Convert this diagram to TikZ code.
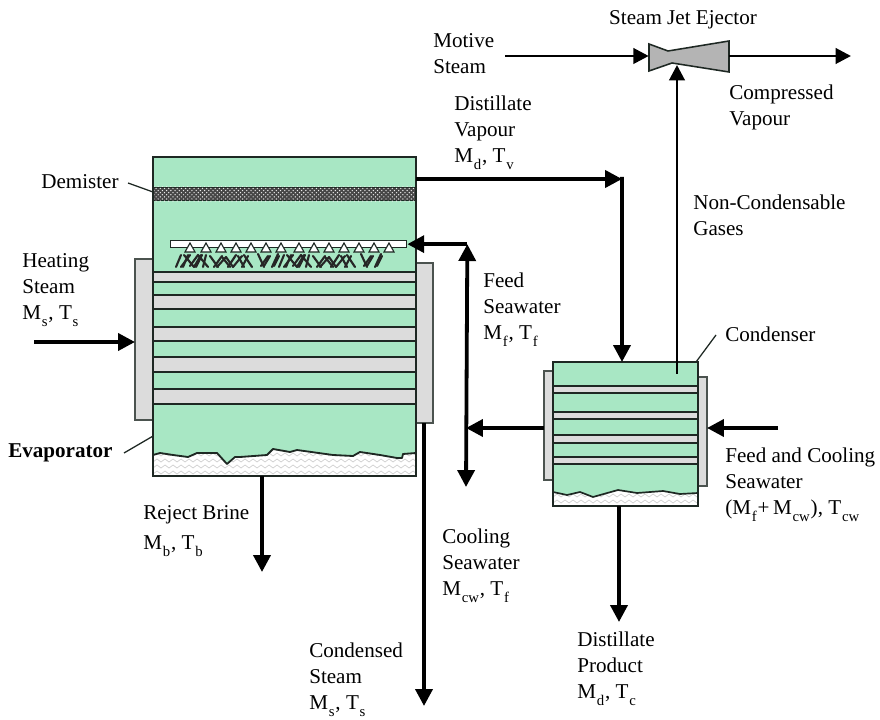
\documentclass[tikz,border=0pt]{standalone}
\usepackage{fontspec}
\setmainfont{Liberation Serif}
\usetikzlibrary{calc,arrows.meta,patterns}
\definecolor{brinegreen}{RGB}{168,231,196}
\definecolor{tubegray}{RGB}{220,220,220}
\definecolor{ejectgray}{RGB}{180,180,180}
\definecolor{meshgray}{RGB}{70,70,70}
\definecolor{linedark}{RGB}{30,40,35}
\newcommand{\low}[1]{\kern0.6pt\raisebox{-0.75ex}{\fontsize{10.5}{10.5}\selectfont #1}\kern0.6pt}

\begin{document}
\begin{tikzpicture}[x=0.025cm, y=-0.025cm]
  \tikzstyle{vessel}=[draw=linedark, line width=1pt, fill=brinegreen, inner sep=0, outer sep=0];
  \tikzstyle{jacket}=[draw=linedark!80, line width=1pt, fill=tubegray, inner sep=0, outer sep=0];
  \tikzstyle{tube}=[draw=linedark, line width=1pt, fill=tubegray];
  \tikzstyle{mytext}=[inner sep=0, align=left, font=\fontsize{15}{18.4}\selectfont];
  \tikzstyle{myconn}=[line width=2.7pt, -{Triangle[length=12pt, width=12pt]}];
  \tikzstyle{thinconn}=[line width=2.1pt, -{Triangle[length=11pt, width=11pt]}];
  \tikzstyle{leader}=[line width=0.9pt, draw=linedark];
  \useasboundingbox (0,0) rectangle (880,720);
  %
  % evaporator
  \node[jacket, anchor=north west, minimum width=0.45cm, minimum height=4.025cm]
  (jackel) at (135,259) {};
  \node[jacket, anchor=north west, minimum width=0.425cm, minimum height=4cm]
  (jacker) at (416,263) {};
  \node[vessel, anchor=north west, minimum width=6.575cm, minimum height=7.975cm]
  (evap) at (153,157) {};
  %
  \foreach \ya/\yb in {272/282, 295/309, 327/341, 357/372, 389/404}
  \draw[tube] (153,\ya) rectangle (416,\yb);
  %
  % demister
  \node[draw=linedark, line width=1pt, fill=meshgray, anchor=north west, inner sep=0,
    minimum width=6.575cm, minimum height=0.325cm] (mesh) at (153,187) {};
  \fill[pattern=crosshatch dots, pattern color=white!85!gray]
  (mesh.north west) rectangle (mesh.south east);
  %
  % spray pipe and nozzles
  \node[draw=linedark, line width=0.9pt, fill=white, anchor=north west, inner sep=0,
    minimum width=5.9cm, minimum height=0.175cm] (pipe) at (170,240) {};
  \foreach \x in {190,206,221,236,251,266,281,299,314,329,344,359,374,389}
  \draw[draw=linedark, line width=0.8pt, fill=white] (\x,243) -- (\x+5,252) -- (\x-5,252) -- cycle;
  \foreach \gx in {0,103}
  \foreach \xa/\xb/\ya/\yb in {0/5/267/255, 5/14/267/255, 8/18/255/267, 12/7/255/267,
    14/22/266/255, 18/25/267/255, 22/32/255/267, 26/20/255/267, 30/27/255/267,
    34/42/256/267, 38/46/267/256, 41/50/267/257, 46/54/257/267, 50/57/257/267,
    52/60/267/255, 57/66/267/256, 62/68/256/267, 68/76/255/267, 72/66/256/267,
    82/88/254/267, 88/94/266/256, 92/85/256/266, 96/102/267/254, 103/98/256/266}
  \draw[line width=1.5pt, draw=black!85, line cap=round]
  (176+\gx+\xa,\ya) -- (176+\gx+\xb,\yb);
  %
  % brine
  \begin{scope}
    \clip (153,455) -- (160,453) -- (173,455) -- (188,457) -- (197,453) -- (217,453)
    -- (227,464) -- (235,457) -- (240,457) -- (267,455) -- (273,449) -- (290,452)
    -- (297,450) -- (333,455) -- (353,456) -- (360,452) -- (380,455) -- (397,458)
    -- (402,458) -- (403,454) -- (416,453) -- (416,476) -- (153,476) -- cycle;
    \fill[white] (153,445) rectangle (416,476);
    \foreach \y in {456,462,468,474}
    \foreach \x in {153,161,...,409}
    \draw[black!18, line width=0.5pt] (\x,\y) -- ++(4,-3) -- ++(4,3);
  \end{scope}
  \draw[line width=1.3pt, draw=linedark, line join=round]
  (153,455) -- (160,453) -- (173,455) -- (188,457) -- (197,453) -- (217,453)
  -- (227,464) -- (235,457) -- (240,457) -- (267,455) -- (273,449) -- (290,452)
  -- (297,450) -- (333,455) -- (353,456) -- (360,452) -- (380,455) -- (397,458)
  -- (402,458) -- (403,454) -- (416,453);
  \draw[draw=linedark, line width=1pt] (evap.north west) rectangle (evap.south east);
  %
  % condenser
  \node[jacket, anchor=north west, minimum width=0.225cm, minimum height=2.725cm]
  (jackcl) at (544,371) {};
  \node[jacket, anchor=north west, minimum width=0.225cm, minimum height=2.725cm]
  (jackcr) at (698,377) {};
  \node[vessel, anchor=north west, minimum width=3.625cm, minimum height=3.6cm]
  (cond) at (553,362) {};
  %
  \foreach \ya/\yb in {386/393, 412/419, 435/443, 457/464}
  \draw[tube] (553,\ya) rectangle (698,\yb);
  %
  \begin{scope}
    \clip (553,492) -- (567,495) -- (580,492) -- (593,497) -- (618,490) -- (637,493)
    -- (663,491) -- (680,494) -- (698,493) -- (698,506) -- (553,506) -- cycle;
    \fill[white] (553,485) rectangle (698,506);
    \foreach \y in {497,503}
    \foreach \x in {553,561,...,693}
    \draw[black!18, line width=0.5pt] (\x,\y) -- ++(4,-3) -- ++(4,3);
  \end{scope}
  \draw[line width=1.2pt, draw=linedark, line join=round]
  (553,492) -- (567,495) -- (580,492) -- (593,497) -- (618,490) -- (637,493)
  -- (663,491) -- (680,494) -- (698,493);
  \draw[draw=linedark, line width=1pt] (cond.north west) rectangle (cond.south east);
  %
  % ejector
  \node[inner sep=0, minimum size=0pt] (ejectin) at (649,56) {};
  \coordinate (ejectout) at (729,56);
  \draw[draw=linedark, line width=1.1pt, fill=ejectgray] (649,44) -- (668,51) -- (729,41)
  -- (729,72) -- (672,63) -- (649,71) -- cycle;
  \coordinate (ejectsouth) at (677,65);
  %
  % free ends
  \coordinate (motivein) at (505,56);
  \coordinate (vapourout) at (851,56);
  \coordinate (heatin) at (34,342);
  \coordinate (coolin) at (778,428);
  \coordinate (rejectout) at (262,572);
  \coordinate (steamout) at (424,706);
  \coordinate (distout) at (619,622);
  \coordinate (gasin) at (677,374);
  \coordinate (vapourbend) at ($(evap.north east)+(206,22)$);
  \coordinate (feedtop) at ($(pipe.east)+(60,0)$);
  \coordinate (feedend) at (466,487);
  \coordinate (feedjoin) at (466,428);
  %
  % connections
  \draw[thinconn] (motivein) -- (ejectin);
  \draw[thinconn] (ejectout) -- (vapourout);
  \draw[thinconn] (gasin) -- (ejectsouth);
  \draw[myconn] ($(evap.north east)+(0,22)$) -- (vapourbend);
  \draw[myconn] ($(vapourbend)+(0,-2)$) -- ($(cond.north west)+(69,0)$);
  \draw[myconn, {Triangle[length=12pt, width=12pt]}-{Triangle[length=12pt, width=12pt]}]
  (feedtop) -- (feedend);
  \draw[myconn] (feedtop) -- (pipe.east);
  \draw[myconn] ($(jackcl.north west)+(0,57)$) -- (feedjoin);
  \draw[myconn] (coolin) -- ($(jackcr.north east)+(0,51)$);
  \draw[myconn] (heatin) -- ($(jackel.north west)+(0,83)$);
  \draw[myconn] ($(evap.south west)+(109,0)$) -- (rejectout);
  \draw[myconn] ($(jacker.south west)+(8,0)$) -- (steamout);
  \draw[myconn] ($(cond.south west)+(66,0)$) -- (distout);
  %
  % labels
  \node[mytext, anchor=west] (motive) at (433,54) {Motive\\Steam};
  \node[mytext] (ejector) at (683,20) {Steam Jet Ejector};
  \node[mytext, anchor=west] (compressed) at (729,107) {Compressed\\Vapour};
  \node[mytext, anchor=west] (distvapour) at (454,133) {Distillate\\Vapour\\M\low{d}, T\low{v}};
  \node[mytext, anchor=west] (noncond) at (693,215) {Non-Condensable\\Gases};
  \node[mytext, anchor=west] (demister) at (41,182) {Demister};
  \node[mytext, anchor=west] (heating) at (22,290) {Heating\\Steam\\M\low{s}, T\low{s}};
  \node[mytext, anchor=west] (feed) at (483,310) {Feed\\Seawater\\M\low{f}, T\low{f}};
  \node[mytext, anchor=west] (condenser) at (725,334) {Condenser};
  \node[mytext, anchor=west, font=\fontsize{15}{18.4}\selectfont\bfseries] (evaporator) at (8,453) {Evaporator};
  \node[mytext, anchor=west] (reject) at (143,531) {Reject Brine\\[3pt]M\low{b}, T\low{b}};
  \node[mytext, anchor=west] (cooling) at (442,566) {Cooling\\Seawater\\M\low{cw}, T\low{f}};
  \node[mytext, anchor=west] (condensed) at (309,680) {Condensed\\Steam\\M\low{s}, T\low{s}};
  \node[mytext, anchor=west] (product) at (577,669) {Distillate\\Product\\M\low{d}, T\low{c}};
  \node[mytext, anchor=west] (coolfeed) at (725,485) {Feed and Cooling\\Seawater\\(M\low{f} +\,M\low{cw}), T\low{cw}};
  %
  % leaders
  \draw[leader] (128,183) -- ($(mesh.north west)+(0,5)$);
  \draw[leader] (124,453) -- ($(evap.south west)+(0,-40)$);
  \draw[leader] ($(cond.north east)+(-2,0)$) -- (716,335);
\end{tikzpicture}
\end{document}
